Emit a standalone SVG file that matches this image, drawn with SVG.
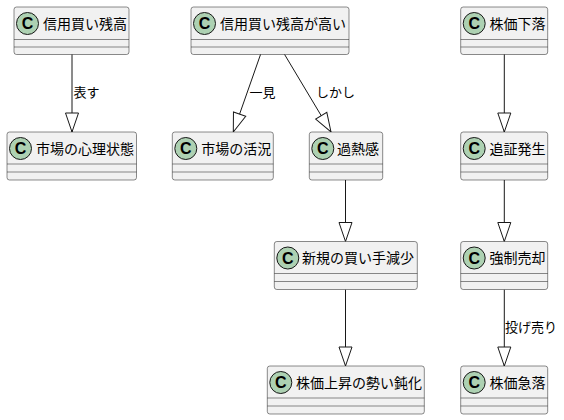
<svg xmlns="http://www.w3.org/2000/svg" width="564" height="420" viewBox="0 0 564 420">
<style>
.box{fill:#F1F1F1;stroke:#181818;stroke-width:0.5}
.sep{stroke:#181818;stroke-width:0.5}
.circ{fill:#ADD1B2;stroke:#181818;stroke-width:1}
.cl{font-family:"Liberation Sans","DejaVu Sans",sans-serif;font-weight:bold;font-size:16px;fill:#000;text-anchor:middle}
.nm{font-family:"Noto Sans CJK JP","Noto Sans",sans-serif;font-size:14px;fill:#000}
.lb{font-family:"Noto Sans CJK JP","Noto Sans",sans-serif;font-size:13px;fill:#000}
.edge{stroke:#181818;stroke-width:1;fill:none;marker-end:url(#ext)}
</style>
<defs>
<marker id="ext" markerUnits="userSpaceOnUse" markerWidth="22" markerHeight="16" viewBox="-20 -8 22 16" refX="0" refY="0" orient="auto">
<path d="M0,0 L-19,-6.5 L-19,6.5 Z" fill="#FFFFFF" stroke="#181818" stroke-width="1"/>
</marker>
</defs>
<g id="connectors">
<path class="edge" d="M72,54 L72,132"/>
<text class="lb" x="73.5" y="97">表す</text>
<path class="edge" d="M260.7,54 L233.3,132"/>
<text class="lb" x="249.5" y="97">一見</text>
<path class="edge" d="M284.3,54 L331,132"/>
<text class="lb" x="316" y="97">しかし</text>
<path class="edge" d="M345.5,180 L345.5,241.5"/>
<path class="edge" d="M345.5,289.5 L345.5,366"/>
<path class="edge" d="M504.3,54 L504.3,132"/>
<path class="edge" d="M504.3,180 L504.3,241.5"/>
<path class="edge" d="M504.3,289.5 L504.3,366"/>
<text class="lb" x="505" y="332">投げ売り</text>
</g>
<g id="n1">
<rect class="box" x="14" y="7" width="115" height="47.5" rx="2.5"/>
<line class="sep" x1="14" y1="39.5" x2="129" y2="39.5"/><line class="sep" x1="14" y1="47" x2="129" y2="47"/>
<circle class="circ" cx="27.5" cy="23.5" r="11"/><text class="cl" x="27.5" y="29">C</text>
<text class="nm" x="43" y="28.5">信用買い残高</text>
</g>
<g id="n2">
<rect class="box" x="7" y="132" width="129.5" height="48" rx="2.5"/>
<line class="sep" x1="7" y1="164" x2="136.5" y2="164"/><line class="sep" x1="7" y1="172" x2="136.5" y2="172"/>
<circle class="circ" cx="20.5" cy="148.5" r="11"/><text class="cl" x="20.5" y="154">C</text>
<text class="nm" x="36" y="153.5">市場の心理状態</text>
</g>
<g id="n3">
<rect class="box" x="191" y="7" width="158" height="47.5" rx="2.5"/>
<line class="sep" x1="191" y1="39.5" x2="349" y2="39.5"/><line class="sep" x1="191" y1="47" x2="349" y2="47"/>
<circle class="circ" cx="204.5" cy="23.5" r="11"/><text class="cl" x="204.5" y="29">C</text>
<text class="nm" x="220" y="28.5">信用買い残高が高い</text>
</g>
<g id="n4">
<rect class="box" x="172.3" y="132" width="101" height="48" rx="2.5"/>
<line class="sep" x1="172.3" y1="164" x2="273.3" y2="164"/><line class="sep" x1="172.3" y1="172" x2="273.3" y2="172"/>
<circle class="circ" cx="185.8" cy="148.5" r="11"/><text class="cl" x="185.8" y="154">C</text>
<text class="nm" x="201.3" y="153.5">市場の活況</text>
</g>
<g id="n5">
<rect class="box" x="309.3" y="132" width="73.4" height="48" rx="2.5"/>
<line class="sep" x1="309.3" y1="164" x2="382.7" y2="164"/><line class="sep" x1="309.3" y1="172" x2="382.7" y2="172"/>
<circle class="circ" cx="322.8" cy="148.5" r="11"/><text class="cl" x="322.8" y="154">C</text>
<text class="nm" x="337" y="153.5">過熱感</text>
</g>
<g id="n6">
<rect class="box" x="274.3" y="241.5" width="143" height="48" rx="2.5"/>
<line class="sep" x1="274.3" y1="273.5" x2="417.3" y2="273.5"/><line class="sep" x1="274.3" y1="281.5" x2="417.3" y2="281.5"/>
<circle class="circ" cx="287.8" cy="258" r="11"/><text class="cl" x="287.8" y="263.5">C</text>
<text class="nm" x="302" y="263">新規の買い手減少</text>
</g>
<g id="n7">
<rect class="box" x="267.3" y="366" width="157" height="48" rx="2.5"/>
<line class="sep" x1="267.3" y1="398" x2="424.3" y2="398"/><line class="sep" x1="267.3" y1="406" x2="424.3" y2="406"/>
<circle class="circ" cx="280.8" cy="382.5" r="11"/><text class="cl" x="280.8" y="388">C</text>
<text class="nm" x="296" y="387.5">株価上昇の勢い鈍化</text>
</g>
<g id="n8">
<rect class="box" x="460.7" y="7" width="87" height="47.5" rx="2.5"/>
<line class="sep" x1="460.7" y1="39.5" x2="547.7" y2="39.5"/><line class="sep" x1="460.7" y1="47" x2="547.7" y2="47"/>
<circle class="circ" cx="474.2" cy="23.5" r="11"/><text class="cl" x="474.2" y="29">C</text>
<text class="nm" x="489.5" y="28.5">株価下落</text>
</g>
<g id="n9">
<rect class="box" x="460.7" y="132" width="87" height="48" rx="2.5"/>
<line class="sep" x1="460.7" y1="164" x2="547.7" y2="164"/><line class="sep" x1="460.7" y1="172" x2="547.7" y2="172"/>
<circle class="circ" cx="474.2" cy="148.5" r="11"/><text class="cl" x="474.2" y="154">C</text>
<text class="nm" x="489.5" y="153.5">追証発生</text>
</g>
<g id="n10">
<rect class="box" x="460.7" y="241.5" width="87" height="48" rx="2.5"/>
<line class="sep" x1="460.7" y1="273.5" x2="547.7" y2="273.5"/><line class="sep" x1="460.7" y1="281.5" x2="547.7" y2="281.5"/>
<circle class="circ" cx="474.2" cy="258" r="11"/><text class="cl" x="474.2" y="263.5">C</text>
<text class="nm" x="489.5" y="263">強制売却</text>
</g>
<g id="n11">
<rect class="box" x="460.7" y="366" width="87" height="48" rx="2.5"/>
<line class="sep" x1="460.7" y1="398" x2="547.7" y2="398"/><line class="sep" x1="460.7" y1="406" x2="547.7" y2="406"/>
<circle class="circ" cx="474.2" cy="382.5" r="11"/><text class="cl" x="474.2" y="388">C</text>
<text class="nm" x="489.5" y="387.5">株価急落</text>
</g>
</svg>
